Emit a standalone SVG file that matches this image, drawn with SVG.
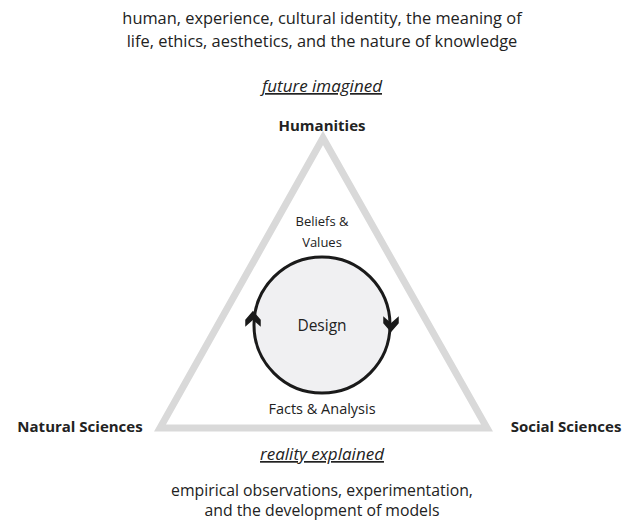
<svg xmlns="http://www.w3.org/2000/svg" width="633" height="521" viewBox="0 0 633 521">
<style>
text{font-family:"Open Sans",Lato,"Liberation Sans",sans-serif;fill:#222;text-anchor:middle}
.t{font-size:16.4px}
.m{font-size:15.8px}
.d{font-size:15.5px}
.b{font-size:15px;font-weight:bold}
.i{font-size:17px;font-style:italic;text-decoration:underline}
.s{font-size:13px}
.arr{fill:#1a1a1a;stroke:#1a1a1a;stroke-width:1.5;stroke-linejoin:miter}
</style>
<rect width="633" height="521" fill="#fff"/>
<g id="top-text">
<text class="t" x="322" y="24">human, experience, cultural identity, the meaning of</text>
<text class="t" x="322" y="47">life, ethics, aesthetics, and the nature of knowledge</text>
<text class="i" x="322" y="92">future imagined</text>
</g>
<g id="triangle">
<polygon points="323,138 160,428 487,428" fill="none" stroke="#d9d9d9" stroke-width="7" stroke-linejoin="miter"/>
</g>
<g id="humanities"><text class="b" x="322" y="131">Humanities</text></g>
<g id="natural"><text class="b" x="80" y="432">Natural Sciences</text></g>
<g id="social"><text class="b" x="566" y="432">Social Sciences</text></g>
<g id="beliefs">
<text class="s" x="322" y="226">Beliefs &amp;</text>
<text class="s" x="322" y="247">Values</text>
</g>
<g id="design">
<circle cx="322" cy="325" r="68" fill="#f0f0f2" stroke="#1a1a1a" stroke-width="3"/>
<text class="d" x="322" y="331">Design</text>
</g>
<g id="connectors">
<path class="arr" d="M253,312 L260,320 L260,325 L253,319 L246,325 L246,320 Z"/>
<path class="arr" d="M391,331 L398,323 L398,318 L391,324 L384,318 L384,323 Z"/>
</g>
<g id="facts"><text class="s" x="322" y="414" style="font-size:14.5px">Facts &amp; Analysis</text></g>
<g id="bottom-text">
<text class="i" x="322" y="460">reality explained</text>
<text class="m" x="322" y="496">empirical observations, experimentation,</text>
<text class="m" x="322" y="516">and the development of models</text>
</g>
</svg>
